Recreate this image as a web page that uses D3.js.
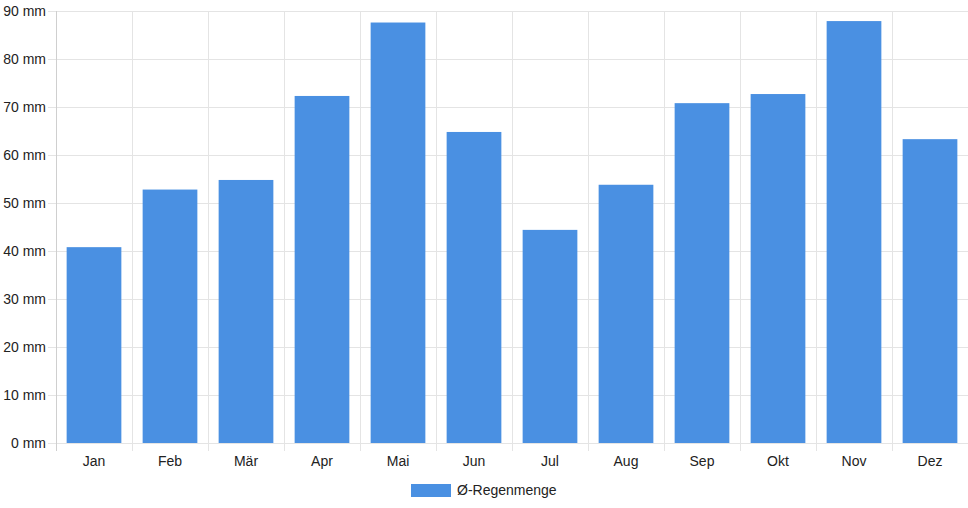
<!DOCTYPE html>
<html>
<head>
<meta charset="utf-8">
<script src="https://cdn.jsdelivr.net/npm/d3@7"></script>
<style>
  body { margin: 0; background: #fff; }
  svg text { font-family: "Liberation Sans", Arial, Helvetica, sans-serif; font-size: 14px; fill: #222; }
</style>
</head>
<body>
<svg id="chart" width="968" height="508"></svg>
<script>
const months = ["Jan", "Feb", "Mär", "Apr", "Mai", "Jun", "Jul", "Aug", "Sep", "Okt", "Nov", "Dez"];
const rain = [40.8, 52.8, 54.8, 72.3, 87.6, 64.8, 44.4, 53.8, 70.8, 72.7, 87.9, 63.3];
const yTicks = [0, 10, 20, 30, 40, 50, 60, 70, 80, 90];
const seriesName = "Ø-Regenmenge";

const BAR_COLOR = "#4a90e2";
const GRID = "#e4e4e4";

const plotLeft = 56, plotRight = 968, plotTop = 11, plotBottom = 443;

const svg = d3.select("svg#chart");

const x = d3.scaleBand()
  .domain(months)
  .range([plotLeft, plotRight]);

const y = d3.scaleLinear()
  .domain([0, 90])
  .range([plotBottom, plotTop]);

// horizontal grid + y ticks
const yAxis = svg.append("g").attr("class", "y-grid");
yAxis.selectAll("line")
  .data(yTicks)
  .enter()
  .append("line")
  .attr("x1", plotLeft - 8)
  .attr("x2", plotRight)
  .attr("y1", d => Math.round(y(d)) + 0.5)
  .attr("y2", d => Math.round(y(d)) + 0.5)
  .attr("stroke", GRID);

yAxis.selectAll("text")
  .data(yTicks)
  .enter()
  .append("text")
  .attr("x", plotLeft - 10)
  .attr("y", d => y(d))
  .attr("dy", "0.35em")
  .attr("text-anchor", "end")
  .text(d => `${d} mm`);

// vertical grid at category boundaries
const bounds = months.map(m => x(m)).concat([plotRight]);
svg.append("g").attr("class", "x-grid")
  .selectAll("line")
  .data(bounds)
  .enter()
  .append("line")
  .attr("x1", d => Math.round(d) + 0.5)
  .attr("x2", d => Math.round(d) + 0.5)
  .attr("y1", plotTop)
  .attr("y2", plotBottom + 8)
  .attr("stroke", (d, i) => i === 0 ? "#cfcfcf" : GRID);

// bars
const barW = x.bandwidth() * 0.72;
svg.append("g").attr("class", "bars")
  .selectAll("rect")
  .data(rain)
  .enter()
  .append("rect")
  .attr("x", (d, i) => x(months[i]) + (x.bandwidth() - barW) / 2)
  .attr("y", d => y(d))
  .attr("width", barW)
  .attr("height", d => plotBottom - y(d))
  .attr("fill", BAR_COLOR);

// x labels
svg.append("g").attr("class", "x-labels")
  .selectAll("text")
  .data(months)
  .enter()
  .append("text")
  .attr("x", d => x(d) + x.bandwidth() / 2)
  .attr("y", 461)
  .attr("dy", "0.35em")
  .attr("text-anchor", "middle")
  .text(d => d);

// legend
const legend = svg.append("g").attr("class", "legend");
legend.append("rect")
  .attr("x", 411)
  .attr("y", 484)
  .attr("width", 40)
  .attr("height", 13)
  .attr("fill", BAR_COLOR);
legend.append("text")
  .attr("x", 457)
  .attr("y", 490)
  .attr("dy", "0.35em")
  .text(seriesName);
</script>
</body>
</html>
